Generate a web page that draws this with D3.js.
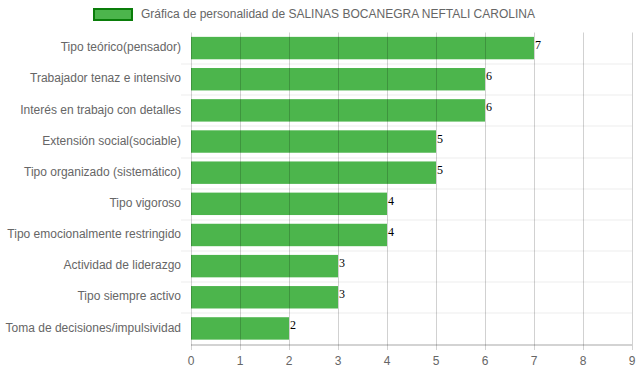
<!DOCTYPE html>
<html>
<head>
<meta charset="utf-8">
<script src="https://cdn.jsdelivr.net/npm/d3@7"></script>
<style>
  body { margin: 0; background: #fff; }
  text { font-family: "Liberation Sans", Arial, sans-serif; }
</style>
</head>
<body>
<div id="chart"></div>
<script>
// data
var categories = ["Tipo teórico(pensador)", "Trabajador tenaz e intensivo", "Interés en trabajo con detalles",
  "Extensión social(sociable)", "Tipo organizado (sistemático)", "Tipo vigoroso",
  "Tipo emocionalmente restringido", "Actividad de liderazgo", "Tipo siempre activo",
  "Toma de decisiones/impulsividad"]
var values = [7, 6, 6, 5, 5, 4, 4, 3, 3, 2]
var xTicks = [0, 1, 2, 3, 4, 5, 6, 7, 8, 9]
var seriesName = "Gráfica de personalidad de SALINAS BOCANEGRA NEFTALI CAROLINA"

var width = 639, height = 372
var margin = {top: 32.5, right: 7, bottom: 28, left: 191}
var w = width - margin.left - margin.right,
    h = height - margin.top - margin.bottom

var svg = d3.select("#chart")
  .append("svg")
  .attr("width", width)
  .attr("height", height)

// legend
var legend = svg.append("g").attr("transform", "translate(93,8)")
legend.append("rect")
  .attr("x", 1).attr("y", 1)
  .attr("width", 38).attr("height", 11)
  .style("fill", "rgba(0,150,0,0.7)")
  .style("stroke", "#0a7d0a")
  .style("stroke-width", 2)
legend.append("text")
  .attr("x", 48).attr("y", 6.5)
  .attr("dominant-baseline", "middle")
  .style("font-size", "12px")
  .style("fill", "#666")
  .text(seriesName)

var g = svg.append("g")
  .attr("transform", "translate(" + margin.left + "," + margin.top + ")")

var x = d3.scaleLinear().domain([0, 9]).range([0, w])
var y = d3.scaleBand().domain(categories).range([0, h]).paddingInner(0.28).paddingOuter(0.14)
var band = h / categories.length

// horizontal grid lines between categories
g.append("g")
  .selectAll("line")
  .data(d3.range(1, categories.length))
  .enter()
  .append("line")
  .attr("x1", -10).attr("x2", w)
  .attr("y1", function(d) { return Math.round(d * band) + 0.5 })
  .attr("y2", function(d) { return Math.round(d * band) + 0.5 })
  .style("stroke", "rgba(0,0,0,0.07)")

// bars
g.append("g")
  .selectAll("rect")
  .data(values)
  .enter()
  .append("rect")
  .attr("x", 0)
  .attr("y", function(d, i) { return y(categories[i]) })
  .attr("width", function(d) { return x(d) })
  .attr("height", y.bandwidth())
  .style("fill", "rgba(0,150,0,0.7)")

// vertical grid lines (drawn over bars, faint)
g.append("g")
  .selectAll("line")
  .data(xTicks)
  .enter()
  .append("line")
  .attr("x1", function(d) { return Math.round(x(d)) + 0.5 })
  .attr("x2", function(d) { return Math.round(x(d)) + 0.5 })
  .attr("y1", 0).attr("y2", h + 6)
  .style("stroke", "rgba(0,0,0,0.18)")

// x axis line
g.append("line")
  .attr("x1", 0).attr("x2", w)
  .attr("y1", Math.round(h) + 0.5).attr("y2", Math.round(h) + 0.5)
  .style("stroke", "rgba(0,0,0,0.35)")

// x tick labels
g.append("g")
  .selectAll("text")
  .data(xTicks)
  .enter()
  .append("text")
  .attr("x", function(d) { return x(d) })
  .attr("y", h + 18)
  .attr("text-anchor", "middle")
  .attr("dominant-baseline", "middle")
  .style("font-size", "12px")
  .style("fill", "#666")
  .text(function(d) { return d })

// category labels
g.append("g")
  .selectAll("text")
  .data(categories)
  .enter()
  .append("text")
  .attr("x", -10)
  .attr("y", function(d) { return y(d) + y.bandwidth() / 2 })
  .attr("text-anchor", "end")
  .attr("dominant-baseline", "middle")
  .style("font-size", "12px")
  .style("fill", "#666")
  .text(function(d) { return d })

// value labels
g.append("g")
  .selectAll("text")
  .data(values)
  .enter()
  .append("text")
  .attr("x", function(d) { return x(d) + 1 })
  .attr("y", function(d, i) { return y(categories[i]) + y.bandwidth() / 2 + 1 })
  .style("font-family", "'Liberation Serif', 'Times New Roman', serif")
  .style("font-size", "12px")
  .style("fill", "#000")
  .text(function(d) { return d })
</script>
</body>
</html>
